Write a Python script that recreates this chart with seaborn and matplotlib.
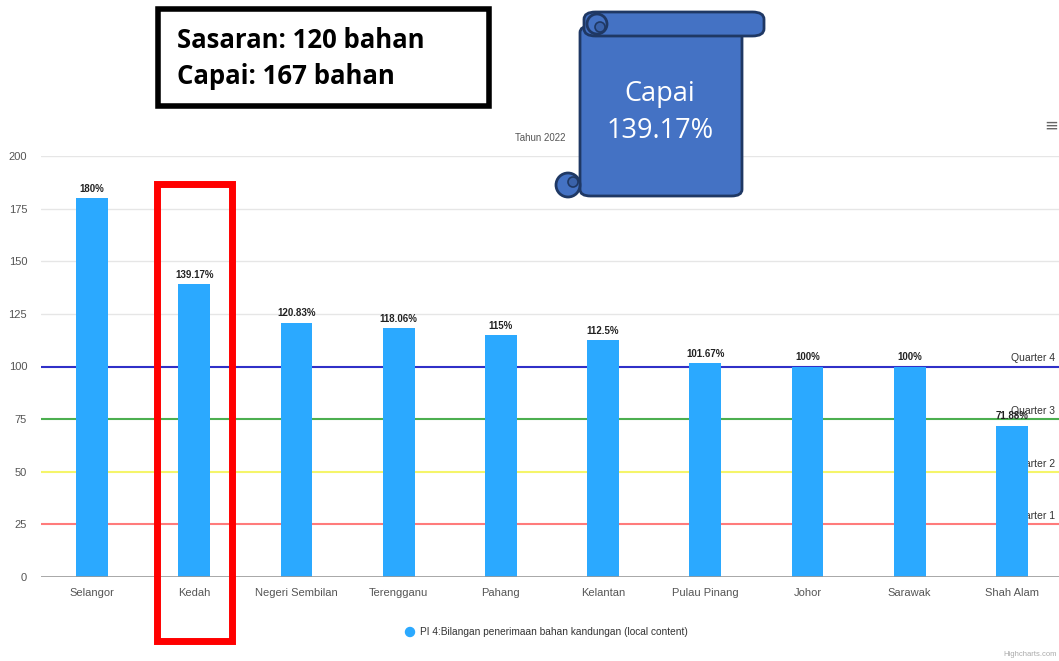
import pandas as pd
import matplotlib.pyplot as plt
import seaborn as sns
from matplotlib.patches import FancyBboxPatch, Rectangle, Ellipse

negeri = ['Selangor', 'Kedah', 'Negeri Sembilan', 'Terengganu', 'Pahang',
          'Kelantan', 'Pulau Pinang', 'Johor', 'Sarawak', 'Shah Alam']
peratus = [180, 139.17, 120.83, 118.06, 115, 112.5, 101.67, 100, 100, 71.88]
label_bar = ['180%', '139.17%', '120.83%', '118.06%', '115%', '112.5%',
             '101.67%', '100%', '100%', '71.88%']
quarter_val = [25, 50, 75, 100]
quarter_nama = ['Quarter 1', 'Quarter 2', 'Quarter 3', 'Quarter 4']
quarter_warna = ['#ff7b7b', '#f5f56a', '#4caf50', '#3030c8']

df = pd.DataFrame({'Negeri': negeri, 'Peratus': peratus})

sns.set_style('white')
plt.rcParams['font.family'] = ['Liberation Sans', 'DejaVu Sans']
W, H = 1059, 661
fig = plt.figure(figsize=(W / 100, H / 100), dpi=100)

def px(x0, y0, x1, y1):
    # kotak dalam piksel -> koordinat figura
    return [x0 / W, 1 - y1 / H, (x1 - x0) / W, (y1 - y0) / H]

def bulat(x, y, r, **kw):
    # bulatan dalam piksel
    return Ellipse((x / W, 1 - y / H), 2 * r / W, 2 * r / H,
                   transform=fig.transFigure, **kw)

ax = fig.add_axes(px(41, 156, 1063, 577))
sns.barplot(data=df, x='Negeri', y='Peratus', color='#2ba9ff', width=0.31,
            saturation=1, ax=ax, zorder=3)
for p in ax.patches:
    p.set_edgecolor('none')

ax.set_ylim(0, 200)
ax.set_xlim(-0.5, 9.5)
ax.set_yticks([0, 25, 50, 75, 100, 125, 150, 175, 200])
for y in [125, 150, 175, 200]:
    ax.axhline(y, color='#e6e6e6', lw=1, zorder=1)
ax.axhline(0, color='#999999', lw=1.2, zorder=4)
for v, nama, c in zip(quarter_val, quarter_nama, quarter_warna):
    ax.axhline(v, color=c, lw=1.5, zorder=2)
    ax.text(9.42, v + 1.5, nama, ha='right', va='bottom', fontsize=7.5,
            color='#333333', zorder=2)

for i, (v, t) in enumerate(zip(peratus, label_bar)):
    ax.text(i, v + 2, t, ha='center', va='bottom', fontsize=7,
            fontweight='bold', color='#222222', zorder=5)

ax.set_xlabel('')
ax.set_ylabel('')
ax.tick_params(axis='both', labelsize=8, colors='#555555', length=0, pad=8)
ax.tick_params(axis='y', pad=10)
sns.despine(ax=ax, left=True, bottom=True, right=True, top=True)

# tajuk kecil
fig.text(540 / W, 1 - 138 / H, 'Tahun 2022', ha='center', va='center',
         fontsize=7, color='#555555')
fig.text(1051 / W, 1 - 126 / H, '\u2261', ha='center', va='center',
         fontsize=12, color='#666666', family='DejaVu Sans')
fig.text(1057 / W, 1 - 654 / H, 'Highcharts.com', ha='right', va='center',
         fontsize=5.5, color='#aaaaaa')

# legenda
fig.patches.append(bulat(410, 632, 4.5, color='#2ba9ff'))
fig.text(420 / W, 1 - 632 / H, 'PI 4:Bilangan penerimaan bahan kandungan (local content)',
         ha='left', va='center', fontsize=7.3, color='#333333')

# kotak sasaran
fig.patches.append(Rectangle((158 / W, 1 - 106 / H), 331 / W, 97 / H, fill=False,
                             ec='black', lw=4, transform=fig.transFigure))
fig.text(177 / W, 1 - 40 / H, 'Sasaran: 120 bahan', fontsize=18.5, fontweight='bold',
         va='center', ha='left', color='black', family=['Open Sans', 'DejaVu Sans'])
fig.text(177 / W, 1 - 77 / H, 'Capai: 167 bahan', fontsize=18.5, fontweight='bold',
         va='center', ha='left', color='black', family=['Open Sans', 'DejaVu Sans'])

# kotak merah Kedah
fig.patches.append(Rectangle((157 / W, 1 - 641 / H), 75 / W, 457 / H, fill=False,
                             ec='#ff0000', lw=5, transform=fig.transFigure))

# gulungan biru
biru = '#4472c4'
gelap = '#1f3864'
fig.patches.append(FancyBboxPatch((580 / W, 1 - 196 / H), 162 / W, 170 / H,
                                  boxstyle='round,pad=0,rounding_size=0.01',
                                  fc=biru, ec=gelap, lw=2, transform=fig.transFigure))
fig.patches.append(FancyBboxPatch((584 / W, 1 - 36 / H), 180 / W, 24 / H,
                                  boxstyle='round,pad=0,rounding_size=0.011',
                                  fc=biru, ec=gelap, lw=2, transform=fig.transFigure))
fig.patches.append(bulat(597, 24, 10, fc=biru, ec=gelap, lw=2))
fig.patches.append(bulat(600, 27, 5, fc='#3a62aa', ec=gelap, lw=1.2))
fig.patches.append(bulat(568, 185, 12, fc=biru, ec=gelap, lw=2))
fig.patches.append(bulat(573, 182, 5, fc='#3a62aa', ec=gelap, lw=1.2))
fig.text(660 / W, 1 - 94 / H, 'Capai', ha='center', va='center', fontsize=19.5,
         color='white', family=['Open Sans', 'DejaVu Sans'])
fig.text(660 / W, 1 - 131 / H, '139.17%', ha='center', va='center', fontsize=19.5,
         color='white', family=['Open Sans', 'DejaVu Sans'])

fig.savefig('out.png', dpi=100)
